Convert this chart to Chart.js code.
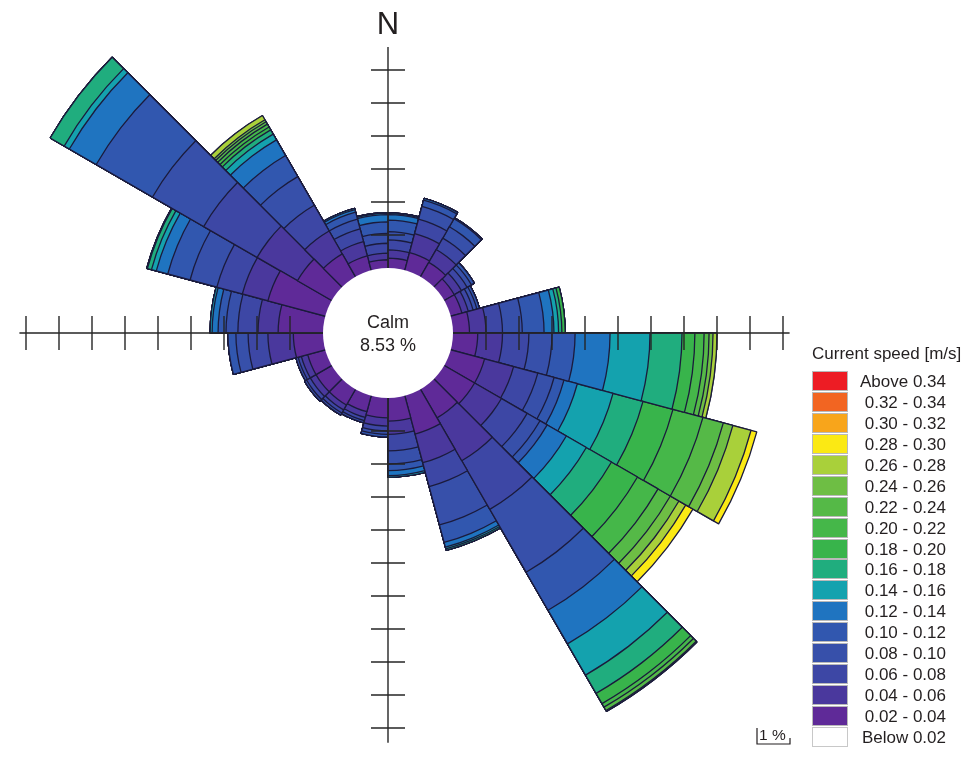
<!DOCTYPE html>
<html>
<head>
<meta charset="utf-8">
<title>Current rose</title>
<script src="https://cdn.jsdelivr.net/npm/chart.js@4.4.1/dist/chart.umd.min.js"></script>
<style>
  html, body { margin: 0; padding: 0; background: #ffffff; }
  #wrap { position: relative; width: 970px; height: 760px; font-family: "Liberation Sans", Arial, sans-serif; color: #231f20; }
  #rose { position: absolute; left: 0; top: 0; }
  .txt { position: absolute; white-space: nowrap; line-height: 1; }
  #north { font-size: 31px; transform: translateX(-50%); }
  #calm { font-size: 18px; text-align: center; line-height: 23px; transform: translate(-50%, -50%); }
  #barText { font-size: 15.5px; }
  #legend { position: absolute; left: 812px; top: 344px; font-size: 17px; }
  #legend .title { position: absolute; left: 0; top: 0; white-space: nowrap; }
  #legend .row { position: absolute; left: 0; width: 134px; height: 20px; }
  #legend .box { position: absolute; left: 0; top: 0; width: 34px; height: 18px; border: 1px solid #b9b9b9; }
  #legend .lab { position: absolute; right: 0; top: 1px; white-space: nowrap; }
</style>
</head>
<body>
<div id="wrap">
  <canvas id="rose" width="970" height="760"></canvas>
  <div id="north" class="txt">N</div>
  <div id="calm" class="txt">Calm<br>8.53 %</div>
  <div id="barText" class="txt">1 %</div>
  <div id="legend"></div>
</div>
<script>
// Direction sectors, 15 degrees wide, clockwise from north
const directions = ['0-15', '15-30', '30-45', '45-60', '60-75', '75-90',
  '90-105', '105-120', '120-135', '135-150', '150-165', '165-180',
  '180-195', '195-210', '210-225', '225-240', '240-255', '255-270',
  '270-285', '285-300', '300-315', '315-330', '330-345', '345-360'];

const calmPercent = 8.53;

// Frequency (%) of each current speed class per direction sector
const spd_002_004 = [0.30, 0.55, 0.50, 0.35, 0.35, 0.50, 0.75, 1.06, 1.06, 1.00, 1.20, 0.70, 0.60, 0.50, 0.55, 0.55, 0.55, 0.90, 1.36, 1.80, 1.20, 0.80, 0.45, 0.25];
const spd_004_006 = [0.25, 0.60, 0.45, 0.25, 0.20, 0.50, 0.75, 0.91, 0.94, 1.50, 0.90, 0.40, 0.25, 0.18, 0.17, 0.20, 0.20, 0.77, 0.61, 0.80, 1.41, 0.80, 0.45, 0.20];
const spd_006_008 = [0.30, 0.45, 0.40, 0.20, 0.15, 0.50, 0.80, 0.76, 0.90, 1.70, 0.75, 0.50, 0.15, 0.10, 0.11, 0.13, 0.10, 0.60, 0.61, 0.80, 1.87, 0.90, 0.40, 0.30];
const spd_008_010 = [0.25, 0.40, 0.40, 0.15, 0.12, 0.60, 0.70, 0.51, 0.45, 2.20, 1.20, 0.40, 0.10, 0.07, 0.07, 0.07, 0.07, 0.37, 0.36, 0.84, 1.79, 1.00, 0.30, 0.30];
const spd_010_012 = [0.35, 0.20, 0.28, 0.10, 0.08, 0.66, 0.70, 0.31, 0.25, 1.33, 0.55, 0.20, 0.08, 0.00, 0.00, 0.00, 0.00, 0.24, 0.24, 0.70, 1.97, 0.74, 0.22, 0.35];
const spd_012_014 = [0.17, 0.05, 0.03, 0.00, 0.00, 0.30, 1.06, 0.42, 0.67, 1.18, 0.15, 0.15, 0.00, 0.00, 0.00, 0.00, 0.00, 0.00, 0.18, 0.36, 0.94, 0.55, 0.08, 0.22];
const spd_014_016 = [0.03, 0.00, 0.00, 0.00, 0.00, 0.14, 1.21, 1.12, 0.70, 1.09, 0.05, 0.05, 0.00, 0.00, 0.00, 0.00, 0.00, 0.00, 0.06, 0.15, 0.18, 0.20, 0.04, 0.04];
const spd_016_018 = [0.02, 0.00, 0.00, 0.00, 0.00, 0.10, 0.97, 0.94, 0.88, 0.64, 0.05, 0.00, 0.00, 0.00, 0.00, 0.00, 0.00, 0.00, 0.00, 0.13, 0.49, 0.15, 0.00, 0.02];
const spd_018_020 = [0.00, 0.00, 0.00, 0.00, 0.00, 0.10, 0.39, 0.94, 0.91, 0.36, 0.00, 0.00, 0.00, 0.00, 0.00, 0.00, 0.00, 0.00, 0.00, 0.02, 0.00, 0.10, 0.00, 0.00];
const spd_020_022 = [0.00, 0.00, 0.00, 0.00, 0.00, 0.00, 0.28, 0.94, 0.72, 0.12, 0.00, 0.00, 0.00, 0.00, 0.00, 0.00, 0.00, 0.00, 0.00, 0.00, 0.00, 0.10, 0.00, 0.00];
const spd_022_024 = [0.00, 0.00, 0.00, 0.00, 0.00, 0.00, 0.15, 0.64, 0.43, 0.12, 0.00, 0.00, 0.00, 0.00, 0.00, 0.00, 0.00, 0.00, 0.00, 0.00, 0.00, 0.08, 0.00, 0.00];
const spd_024_026 = [0.00, 0.00, 0.00, 0.00, 0.00, 0.00, 0.12, 0.30, 0.30, 0.03, 0.00, 0.00, 0.00, 0.00, 0.00, 0.00, 0.00, 0.00, 0.00, 0.00, 0.00, 0.07, 0.00, 0.00];
const spd_026_028 = [0.00, 0.00, 0.00, 0.00, 0.00, 0.00, 0.12, 0.57, 0.24, 0.00, 0.00, 0.00, 0.00, 0.00, 0.00, 0.00, 0.00, 0.00, 0.00, 0.00, 0.00, 0.15, 0.00, 0.00];
const spd_028_030 = [0.00, 0.00, 0.00, 0.00, 0.00, 0.00, 0.00, 0.18, 0.25, 0.00, 0.00, 0.00, 0.00, 0.00, 0.00, 0.00, 0.00, 0.00, 0.00, 0.00, 0.00, 0.00, 0.00, 0.00];

// Speed classes drawn in the rose, from the slowest outwards
const roseClasses = ['0.02 - 0.04', '0.04 - 0.06', '0.06 - 0.08', '0.08 - 0.10', '0.10 - 0.12',
  '0.12 - 0.14', '0.14 - 0.16', '0.16 - 0.18', '0.18 - 0.20', '0.20 - 0.22', '0.22 - 0.24',
  '0.24 - 0.26', '0.26 - 0.28', '0.28 - 0.30'];
const roseSeries = [spd_002_004, spd_004_006, spd_006_008, spd_008_010, spd_010_012,
  spd_012_014, spd_014_016, spd_016_018, spd_018_020, spd_020_022, spd_022_024,
  spd_024_026, spd_026_028, spd_028_030];
const roseColors = ['#5f2a98', '#4a389d', '#3d47a5', '#3750aa', '#3157af',
  '#1f74c0', '#14a2ae', '#20ad7e', '#38b44b', '#45b749', '#55b947',
  '#6ebe44', '#a9d03a', '#fbe914'];

// Legend entries, top to bottom
const legendLabels = ['Above 0.34', '0.32 - 0.34', '0.30 - 0.32', '0.28 - 0.30', '0.26 - 0.28',
  '0.24 - 0.26', '0.22 - 0.24', '0.20 - 0.22', '0.18 - 0.20', '0.16 - 0.18', '0.14 - 0.16',
  '0.12 - 0.14', '0.10 - 0.12', '0.08 - 0.10', '0.06 - 0.08', '0.04 - 0.06', '0.02 - 0.04', 'Below 0.02'];
const legendColors = ['#ed1c24', '#f26522', '#f8a51b', '#fbe914', '#a9d03a',
  '#6ebe44', '#55b947', '#45b749', '#38b44b', '#20ad7e', '#14a2ae',
  '#1f74c0', '#3157af', '#3750aa', '#3d47a5', '#4a389d', '#5f2a98', '#ffffff'];

// Stack the classes: each ring is drawn from the centre out to its cumulative total
const stacked = [];
let running = directions.map(() => 0);
roseSeries.forEach(arr => {
  running = running.map((v, i) => Math.round((v + arr[i]) * 1000) / 1000);
  stacked.push(running.slice());
});

// Radial geometry: calm disc radius and pixels per percent
const CALM_R = 65, PX_PER_PCT = 33, AREA_R = 333;
const rMin = -CALM_R / PX_PER_PCT;
const rMax = rMin + AREA_R / PX_PER_PCT;

const datasets = stacked.map((d, k) => ({
  label: roseClasses[k],
  data: d,
  backgroundColor: roseColors[k],
  borderColor: '#1b1b3c',
  borderWidth: 1.3,
  clip: false
}));

const overlay = {
  id: 'roseOverlay',
  afterDatasetsDraw(chart) {
    const s = chart.scales.r;
    const ctx = chart.ctx;
    const cx = s.xCenter, cy = s.yCenter;
    const d = v => s.getDistanceFromCenterForValue(v);
    ctx.save();
    ctx.strokeStyle = '#262626';
    ctx.lineWidth = 1.4;
    // compass arms: direction, extent (%) and ticks every 1 %
    const arms = [
      { ux: 0, uy: -1, len: 6.7, n: 6 },
      { ux: 1, uy: 0, len: 10.2, n: 10 },
      { ux: 0, uy: 1, len: 10.45, n: 10 },
      { ux: -1, uy: 0, len: 9.2, n: 9 }
    ];
    arms.forEach(a => {
      ctx.beginPath();
      ctx.moveTo(cx + a.ux * d(0), cy + a.uy * d(0));
      ctx.lineTo(cx + a.ux * d(a.len), cy + a.uy * d(a.len));
      for (let k = 1; k <= a.n; k++) {
        const px = cx + a.ux * d(k), py = cy + a.uy * d(k);
        ctx.moveTo(px - a.uy * 17, py - a.ux * 17);
        ctx.lineTo(px + a.uy * 17, py + a.ux * 17);
      }
      ctx.stroke();
    });
    // calm disc
    ctx.fillStyle = '#ffffff';
    ctx.beginPath();
    ctx.arc(cx, cy, d(0), 0, Math.PI * 2);
    ctx.fill();
    // 1 % scale bar
    const one = d(1) - d(0);
    const bx = 757, by = 744;
    ctx.lineWidth = 1.2;
    ctx.strokeStyle = '#231f20';
    ctx.beginPath();
    ctx.moveTo(bx, by - 16); ctx.lineTo(bx, by); ctx.lineTo(bx + one, by); ctx.lineTo(bx + one, by - 6);
    ctx.stroke();
    ctx.restore();

    const north = document.getElementById('north');
    north.style.left = cx + 'px';
    north.style.top = (cy - d(6.7) - 39) + 'px';
    const calm = document.getElementById('calm');
    calm.style.left = cx + 'px';
    calm.style.top = (cy + 1) + 'px';
    const bt = document.getElementById('barText');
    bt.style.left = (bx + 2) + 'px';
    bt.style.top = (by - 17) + 'px';
  }
};

new Chart(document.getElementById('rose'), {
  type: 'polarArea',
  data: { labels: directions, datasets },
  options: {
    responsive: false,
    animation: false,
    events: [],
    layout: { padding: { left: 55, right: 249, top: 0, bottom: 94 } },
    plugins: { legend: { display: false }, tooltip: { enabled: false } },
    scales: {
      r: {
        min: rMin,
        max: rMax,
        startAngle: 0,
        grid: { display: false },
        angleLines: { display: false },
        ticks: { display: false },
        pointLabels: { display: false }
      }
    }
  },
  plugins: [overlay]
});

// Legend
const legend = document.getElementById('legend');
const title = document.createElement('div');
title.className = 'title';
title.textContent = 'Current speed [m/s]';
legend.appendChild(title);
legendLabels.forEach((lab, i) => {
  const row = document.createElement('div');
  row.className = 'row';
  row.style.top = (27 + i * 20.94) + 'px';
  const box = document.createElement('div');
  box.className = 'box';
  box.style.background = legendColors[i];
  if (i === legendLabels.length - 1) box.style.borderColor = '#c8c8c8';
  const t = document.createElement('div');
  t.className = 'lab';
  t.textContent = lab;
  row.appendChild(box);
  row.appendChild(t);
  legend.appendChild(row);
});
</script>
</body>
</html>
